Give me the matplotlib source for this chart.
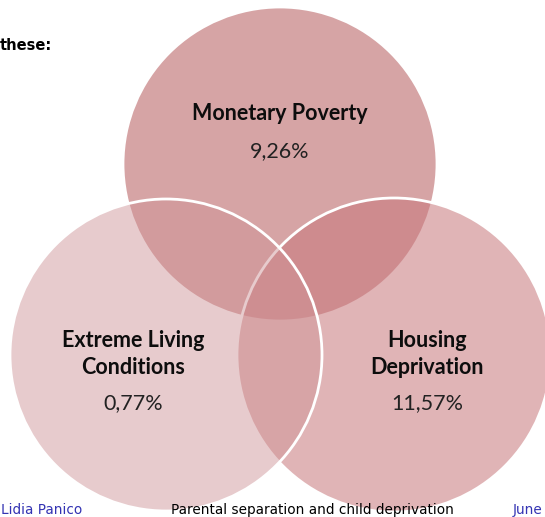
import matplotlib.pyplot as plt
from matplotlib.patches import Circle

# three deprivation dimensions: name, share, centre (px), radius (px)
names = ["Monetary Poverty", "Housing\nDeprivation", "Extreme Living\nConditions"]
shares = [9.26, 11.57, 0.77]
centres = [(280, 164), (394, 355), (166, 355)]
radii = [157, 157, 156]
fills = [(187, 103, 105), (200, 121, 125), (206, 146, 149)]
alphas = [0.60, 0.56, 0.47]
label_pos = [(280, 113), (427, 354), (133, 354)]
share_pos = [(280, 151), (427, 403), (133, 403)]

W, H = 545, 517
fig = plt.figure(figsize=(W / 100, H / 100), dpi=100)
ax = fig.add_axes([0, 0, 1, 1])
ax.set_xlim(0, W)
ax.set_ylim(H, 0)
ax.set_aspect("equal")
ax.axis("off")

for (cx, cy), r, rgb, a in zip(centres, radii, fills, alphas):
    fc = tuple(v / 255 for v in rgb) + (a,)
    ax.add_patch(Circle((cx, cy), r, facecolor=fc, edgecolor="white",
                        linewidth=2.0, zorder=2))

for name, share, (lx, ly), (sx, sy) in zip(names, shares, label_pos, share_pos):
    ax.text(lx, ly, name, ha="center", va="center", fontsize=15.5,
            fontweight="bold", family="Lato", color="#0d0d0d",
            linespacing=1.35, zorder=5)
    ax.text(sx, sy, f"{share:.2f}".replace(".", ",") + "%", ha="center",
            va="center", fontsize=15.5, family="Lato", color="#222222", zorder=5)

# slide remnants around the diagram
ax.text(0, 45, "these:", ha="left", va="center", fontsize=10.5,
        fontweight="bold", family="DejaVu Sans", zorder=5)
ax.text(1, 510, "Lidia Panico", ha="left", va="center", fontsize=9.8,
        color="#3333b3", family="DejaVu Sans", zorder=5)
ax.text(312, 510, "Parental separation and child deprivation", ha="center",
        va="center", fontsize=9.8, family="DejaVu Sans", zorder=5)
ax.text(513, 510, "June", ha="left", va="center", fontsize=9.8,
        color="#3333b3", family="DejaVu Sans", zorder=5)

fig.savefig("out.png", dpi=100)
